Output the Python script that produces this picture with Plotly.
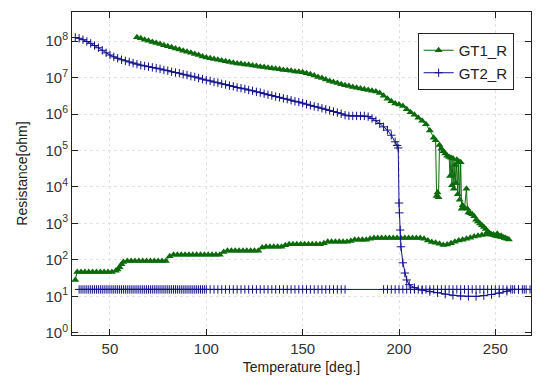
import plotly.graph_objects as go

# ---------------- data ----------------
# GT1_R heating branch (temperature in deg., log10 of resistance in ohm)
gt1_heat_temp = [64, 66, 68, 70, 72, 74, 76, 78, 80, 82, 84, 86, 88, 90, 92, 94, 96, 98,
                 100, 102, 104, 106, 108, 110, 112, 114, 116, 118, 120, 122, 124, 126, 128,
                 130, 132, 134, 136, 138, 140, 142, 144, 146, 148, 150, 152, 154, 156, 158,
                 160, 162, 164, 166, 168, 170, 172, 174, 176, 178, 180, 182, 184, 186, 188,
                 190, 192, 194, 196, 198, 200, 202, 204, 206, 208, 210, 212, 214,
                 216, 218, 219, 219.5, 220, 220.5, 221, 222, 223, 224, 225, 226, 226.5, 227,
                 227.5, 228, 228.5, 229, 229.5, 230, 230.5, 231, 231.5, 232, 232.5, 233, 234,
                 235, 235.5, 236, 237, 238, 239, 240, 241, 242, 243, 244, 245, 246, 247, 248,
                 249, 250, 251, 252, 253, 254, 255, 256, 257]
gt1_heat_log_r = [8.11, 8.08, 8.04, 8.01, 7.98, 7.95, 7.92, 7.89, 7.86, 7.83, 7.80, 7.77, 7.74,
                  7.71, 7.68, 7.65, 7.62, 7.58, 7.55, 7.53, 7.51, 7.49, 7.47, 7.45, 7.43, 7.41,
                  7.39, 7.38, 7.36, 7.35, 7.33, 7.32, 7.30, 7.29, 7.27, 7.26, 7.24, 7.23, 7.21,
                  7.20, 7.19, 7.17, 7.16, 7.15, 7.12, 7.09, 7.06, 7.02, 6.99, 6.95, 6.91, 6.88,
                  6.85, 6.82, 6.79, 6.77, 6.74, 6.72, 6.70, 6.68, 6.66, 6.64, 6.62, 6.58, 6.50,
                  6.42, 6.35, 6.29, 6.26, 6.22, 6.13, 6.05, 5.98, 5.90, 5.82, 5.72,
                  5.55, 5.35, 5.28, 3.75, 3.85, 3.72, 5.15, 5.05, 4.98, 4.92, 4.86, 4.82, 4.30,
                  4.80, 4.05, 4.78, 3.95, 4.60, 4.10, 4.75, 3.80, 4.70, 3.65, 4.68, 3.40, 3.50,
                  3.42, 3.95, 3.40, 3.30, 3.28, 3.25, 3.20, 3.10, 3.05, 3.00, 2.95, 2.90, 2.85,
                  2.78, 2.72, 2.70, 2.68, 2.66, 2.65, 2.64, 2.63, 2.62, 2.60, 2.58, 2.56]

# GT1_R cooling branch
gt1_cool_temp = [255, 253, 251, 249, 247, 245, 243, 241, 239, 237, 235, 233, 231, 229, 227,
                 225, 223, 221, 219, 217, 215, 213, 211, 209, 207, 205, 203, 201, 199, 197,
                 195, 193, 191, 189, 187, 185, 183, 181, 179, 177, 175, 173, 171, 169, 167,
                 165, 163, 161, 159, 157, 155, 153, 151, 149, 147, 145, 143, 141, 139, 137,
                 135, 133, 131, 129, 127, 125, 123, 121, 119, 117, 115, 113, 111, 109, 107,
                 105, 103, 101, 99, 97, 95, 93, 91, 89, 87, 85, 83, 81, 79, 77, 75, 73, 71,
                 69, 67, 65, 63, 61, 59, 57, 56, 55, 54, 53, 51, 49, 47, 45, 43, 41, 39, 37,
                 35, 33, 32]
gt1_cool_log_r = [2.60, 2.66, 2.72, 2.70, 2.74, 2.70, 2.68, 2.66, 2.64, 2.61, 2.58, 2.55, 2.53,
                  2.50, 2.46, 2.42, 2.41, 2.44, 2.47, 2.49, 2.53, 2.58, 2.60, 2.60, 2.60, 2.60,
                  2.60, 2.60, 2.60, 2.60, 2.60, 2.60, 2.60, 2.60, 2.60, 2.58, 2.55, 2.55, 2.55,
                  2.55, 2.52, 2.50, 2.50, 2.50, 2.50, 2.50, 2.50, 2.46, 2.43, 2.43, 2.43, 2.43,
                  2.43, 2.43, 2.43, 2.43, 2.43, 2.40, 2.36, 2.36, 2.36, 2.36, 2.36, 2.34, 2.25,
                  2.25, 2.25, 2.25, 2.25, 2.25, 2.25, 2.25, 2.25, 2.22, 2.14, 2.14, 2.14, 2.14,
                  2.14, 2.14, 2.14, 2.14, 2.14, 2.14, 2.14, 2.14, 2.14, 2.10, 1.97, 1.97, 1.97,
                  1.97, 1.97, 1.97, 1.97, 1.97, 1.97, 1.97, 1.97, 1.94, 1.88, 1.80, 1.74, 1.70,
                  1.67, 1.67, 1.67, 1.67, 1.67, 1.67, 1.67, 1.67, 1.67, 1.67, 1.45]

# GT2_R heating branch
gt2_heat_temp = [32, 34, 36, 38, 40, 42, 44, 46, 48, 50, 52, 54, 56, 58, 60, 62, 64, 66, 68,
                 70, 72, 74, 76, 78, 80, 82, 84, 86, 88, 90, 92, 94, 96, 98, 100, 102, 104,
                 106, 108, 110, 112, 114, 116, 118, 120, 122, 124, 126, 128, 130, 132, 134,
                 136, 138, 140, 142, 144, 146, 148, 150, 152, 154, 156, 158, 160, 162, 164,
                 166, 168, 170, 172, 174, 176, 178, 180, 182, 184, 186, 188, 190, 192, 194,
                 196, 198, 199, 199.6, 200, 200.2, 200.6, 201, 202, 203, 204, 205.3, 208, 212,
                 216, 220, 224, 228, 232, 236, 240, 244, 248, 252, 256, 259, 262, 265, 268]
gt2_heat_log_r = [8.10, 8.08, 8.04, 7.99, 7.94, 7.88, 7.82, 7.75, 7.68, 7.62, 7.57, 7.53, 7.49,
                  7.46, 7.43, 7.40, 7.37, 7.34, 7.32, 7.30, 7.28, 7.26, 7.24, 7.21, 7.19, 7.16,
                  7.14, 7.12, 7.09, 7.07, 7.04, 7.02, 6.99, 6.96, 6.93, 6.91, 6.88, 6.86, 6.83,
                  6.81, 6.78, 6.76, 6.73, 6.71, 6.69, 6.66, 6.64, 6.61, 6.59, 6.56, 6.53, 6.51,
                  6.48, 6.46, 6.43, 6.41, 6.38, 6.35, 6.33, 6.30, 6.27, 6.24, 6.21, 6.19, 6.16,
                  6.13, 6.10, 6.07, 6.04, 6.01, 5.97, 5.95, 5.95, 5.95, 5.95, 5.95, 5.93, 5.88,
                  5.82, 5.74, 5.65, 5.56, 5.42, 5.24, 5.14, 5.07, 3.56, 3.29, 2.82, 2.36, 1.92,
                  1.64, 1.45, 1.32, 1.24, 1.17, 1.13, 1.10, 1.06, 1.03, 1.01, 1.00, 1.00, 1.02,
                  1.05, 1.09, 1.14, 1.19, 1.19, 1.19, 1.19]

# GT2_R cooling branch
gt2_cool_temp = [266, 264, 262, 260, 258, 256, 254, 252, 250, 248, 246, 244, 242, 240, 238,
                 236, 234, 232, 230, 228, 226, 224, 222, 220, 218, 216, 214, 212, 210, 208,
                 206, 204, 202, 200, 198, 196, 194, 192, 172, 170, 168, 166, 164, 162, 160,
                 158, 156, 154, 152, 150, 148, 146, 144, 142, 140, 138, 136, 134, 132, 130,
                 128, 126, 124, 122, 120, 118, 116, 114, 112, 110, 108, 106, 104, 102, 100,
                 99, 98, 97, 96, 95, 94, 93, 92, 91, 90, 89, 88, 87, 86, 85, 84, 83, 82, 81,
                 80, 79, 78, 77, 76, 75, 74, 73, 72, 71, 70, 69, 68, 67, 66, 65, 64, 63, 62,
                 61, 60, 59, 58, 57, 56, 55, 54, 53, 52, 51, 50, 49, 48, 47, 46, 45, 44, 43,
                 42, 41, 40, 39, 38, 37, 36, 35, 34, 33, 32]
gt2_cool_log_r = [1.19, 1.19, 1.19, 1.19, 1.19, 1.19, 1.19, 1.19, 1.19, 1.19, 1.19, 1.19, 1.19,
                  1.19, 1.19, 1.19, 1.19, 1.19, 1.19, 1.19, 1.19, 1.19, 1.19, 1.19, 1.19, 1.19,
                  1.19, 1.19, 1.19, 1.19, 1.19, 1.19, 1.19, 1.19, 1.19, 1.19, 1.19, 1.19, 1.19,
                  1.19, 1.19, 1.19, 1.19, 1.19, 1.19, 1.19, 1.19, 1.19, 1.19, 1.19, 1.19, 1.19,
                  1.19, 1.19, 1.19, 1.19, 1.19, 1.19, 1.19, 1.19, 1.19, 1.19, 1.19, 1.19, 1.19,
                  1.19, 1.19, 1.19, 1.19, 1.19, 1.19, 1.19, 1.19, 1.19, 1.19, 1.19, 1.19, 1.19,
                  1.19, 1.19, 1.19, 1.19, 1.19, 1.19, 1.19, 1.19, 1.19, 1.19, 1.19, 1.19, 1.19,
                  1.19, 1.19, 1.19, 1.19, 1.19, 1.19, 1.19, 1.19, 1.19, 1.19, 1.19, 1.19, 1.19,
                  1.19, 1.19, 1.19, 1.19, 1.19, 1.19, 1.19, 1.19, 1.19, 1.19, 1.19, 1.19, 1.19,
                  1.19, 1.19, 1.19, 1.19, 1.19, 1.19, 1.19, 1.19, 1.19, 1.19, 1.19, 1.19, 1.19,
                  1.19, 1.19, 1.19, 1.19, 1.19, 1.19, 1.19, 1.19, 1.19, 1.19, 1.19]

x_ticks = [50, 100, 150, 200, 250]
y_ticks = [1, 10, 100, 1e3, 1e4, 1e5, 1e6, 1e7, 1e8]
y_tick_labels = ["10<sup>0</sup>", "10<sup>1</sup>", "10<sup>2</sup>", "10<sup>3</sup>",
                 "10<sup>4</sup>", "10<sup>5</sup>", "10<sup>6</sup>", "10<sup>7</sup>",
                 "10<sup>8</sup>"]

series_names = ["GT1_R", "GT2_R"]
# ---------------------------------------------------------------

GREEN = "#0b6b0b"
BLUE = "#12128e"
FONT = "Liberation Sans, Arial, sans-serif"

gt1_x = gt1_heat_temp + gt1_cool_temp
gt1_y = [10 ** v for v in gt1_heat_log_r + gt1_cool_log_r]
gt2_x = gt2_heat_temp + gt2_cool_temp
gt2_y = [10 ** v for v in gt2_heat_log_r + gt2_cool_log_r]

fig = go.Figure()
fig.add_trace(go.Scatter(
    x=gt1_x, y=gt1_y, name=series_names[0], mode="lines+markers",
    line=dict(color=GREEN, width=1),
    marker=dict(symbol="triangle-up", size=7, color=GREEN),
))
fig.add_trace(go.Scatter(
    x=gt2_x, y=gt2_y, name=series_names[1], mode="lines+markers",
    line=dict(color=BLUE, width=1),
    marker=dict(symbol="cross-thin", size=6, color=BLUE, line=dict(color=BLUE, width=1)),
))

axis_common = dict(
    showline=True, linecolor="#222", linewidth=1, mirror="ticks",
    ticks="inside", ticklen=6, tickcolor="#222", tickwidth=1,
    showgrid=True, gridcolor="#e2e2e2", griddash="dot", gridwidth=1,
    zeroline=False, automargin=False,
    tickfont=dict(family=FONT, size=15, color="#333"),
)

fig.update_layout(
    width=536, height=379,
    margin=dict(l=72, r=5, t=12, b=44),
    paper_bgcolor="white", plot_bgcolor="white",
    font=dict(family=FONT, color="#222"),
    showlegend=True,
    legend=dict(
        x=0.753, y=0.935, xanchor="left", yanchor="top",
        bgcolor="white", bordercolor="#222", borderwidth=1,
        font=dict(family=FONT, size=15, color="#222"),
        tracegroupgap=0, itemwidth=30,
    ),
    xaxis=dict(
        range=[30.3, 268.5], tickvals=x_ticks,
        title=dict(text="Temperature [deg.]", font=dict(family=FONT, size=14, color="#222"), standoff=6),
        **axis_common,
    ),
    yaxis=dict(
        type="log", range=[-0.06, 8.8], tickvals=y_ticks, ticktext=y_tick_labels,
        title=dict(text="Resistance[ohm]", font=dict(family=FONT, size=14, color="#222"), standoff=14),
        **axis_common,
    ),
)

fig.write_html("out.html", config={"displayModeBar": False},
               post_script="document.body.style.margin='0';document.body.style.overflow='hidden';")
